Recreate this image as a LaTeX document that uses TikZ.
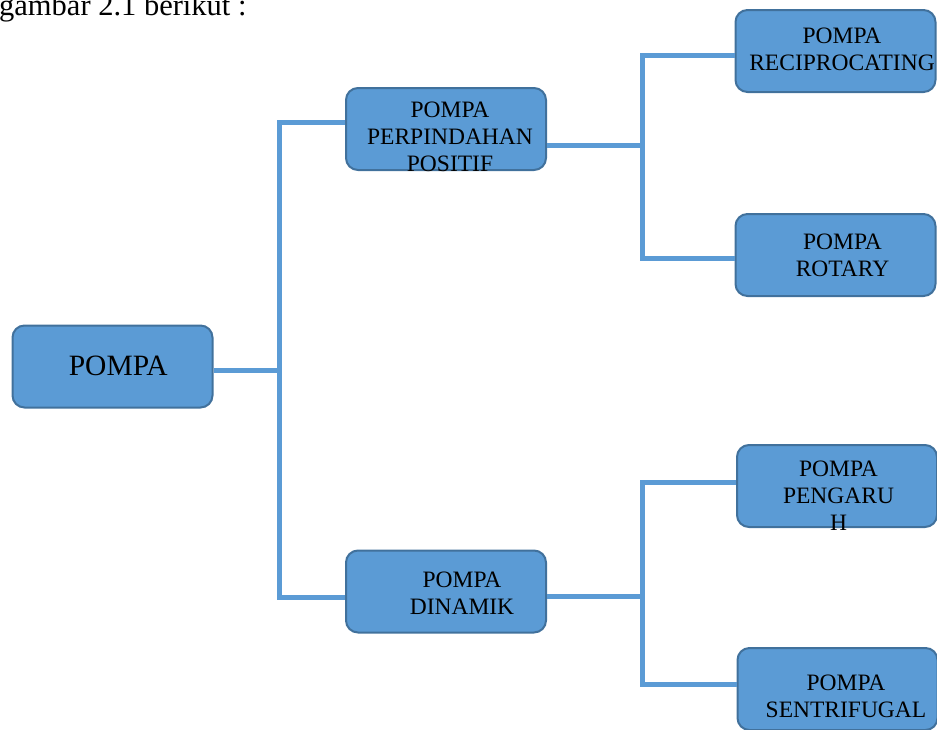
\documentclass[tikz,border=0pt]{standalone}
\usepackage{fontspec}
\setmainfont{Liberation Serif}
\usepackage{tikz}

\definecolor{boxblue}{HTML}{5B9BD5}
\definecolor{boxedge}{HTML}{41719C}
\definecolor{linkblue}{HTML}{5B9BD5}

\tikzset{
    pbox/.style={draw=boxedge, fill=boxblue, line width=2pt, rounded corners=12pt,
        minimum width=200pt, minimum height=82pt, inner sep=0pt},
    ptext/.style={inner sep=0pt, align=center, font=\fontsize{23.5}{27}\selectfont},
    link/.style={draw=linkblue, line width=5pt},
}

\begin{document}
\begin{tikzpicture}[x=1pt, y=-1pt]
\useasboundingbox (0,0) rectangle (937,729);
\node[anchor=base west, inner sep=0pt, font=\fontsize{30.5}{36}\selectfont] (caption) at (-1,15) {gambar 2.1 berikut :};
% boxes
\node[pbox] (root) at (112.5,366.5) {};
\node[pbox] (ppp) at (446,129) {};
\node[pbox] (din) at (446,591.5) {};
\node[pbox] (recip) at (835.5,51) {};
\node[pbox] (rot) at (835.5,255) {};
\node[pbox] (peng) at (837,486) {};
\node[pbox] (sent) at (837.5,689) {};
% joints
\coordinate (tA) at (279.5,370.3);
\coordinate (tTop) at (279.5,122.5);
\coordinate (tBot) at (279.5,597);
\coordinate (tB) at (642,145);
\coordinate (tB1) at (642,55.5);
\coordinate (tB2) at (642,258);
\coordinate (tC) at (642,596);
\coordinate (tC1) at (642,482);
\coordinate (tC2) at (642,684);
% connectors
\draw[link] (root.east |- tA) -- (tA);
\draw[link] (ppp.west |- tTop) -- (tTop) -- (tBot) -- (din.west |- tBot);
\draw[link] (ppp.east |- tB) -- (tB);
\draw[link] (recip.west |- tB1) -- (tB1) -- (tB2) -- (rot.west |- tB2);
\draw[link] (din.east |- tC) -- (tC);
\draw[link] (peng.west |- tC1) -- (tC1) -- (tC2) -- (sent.west |- tC2);
% labels
\node[ptext, font=\fontsize{29.5}{34}\selectfont] (root-t) at (118.3,366.2) {POMPA};
\node[ptext] (ppp-t) at (450,137.2) {POMPA\\PERPINDAHAN\\POSITIF};
\node[ptext] (recip-t) at (842,49.7) {POMPA\\RECIPROCATING};
\node[ptext] (rot-t) at (842.5,255.7) {POMPA\\ROTARY};
\node[ptext] (peng-t) at (838.5,495.7) {POMPA\\PENGARU\\H};
\node[ptext] (din-t) at (462,593.7) {POMPA\\DINAMIK};
\node[ptext] (sent-t) at (846,696.2) {POMPA\\SENTRIFUGAL};
\end{tikzpicture}
\end{document}
